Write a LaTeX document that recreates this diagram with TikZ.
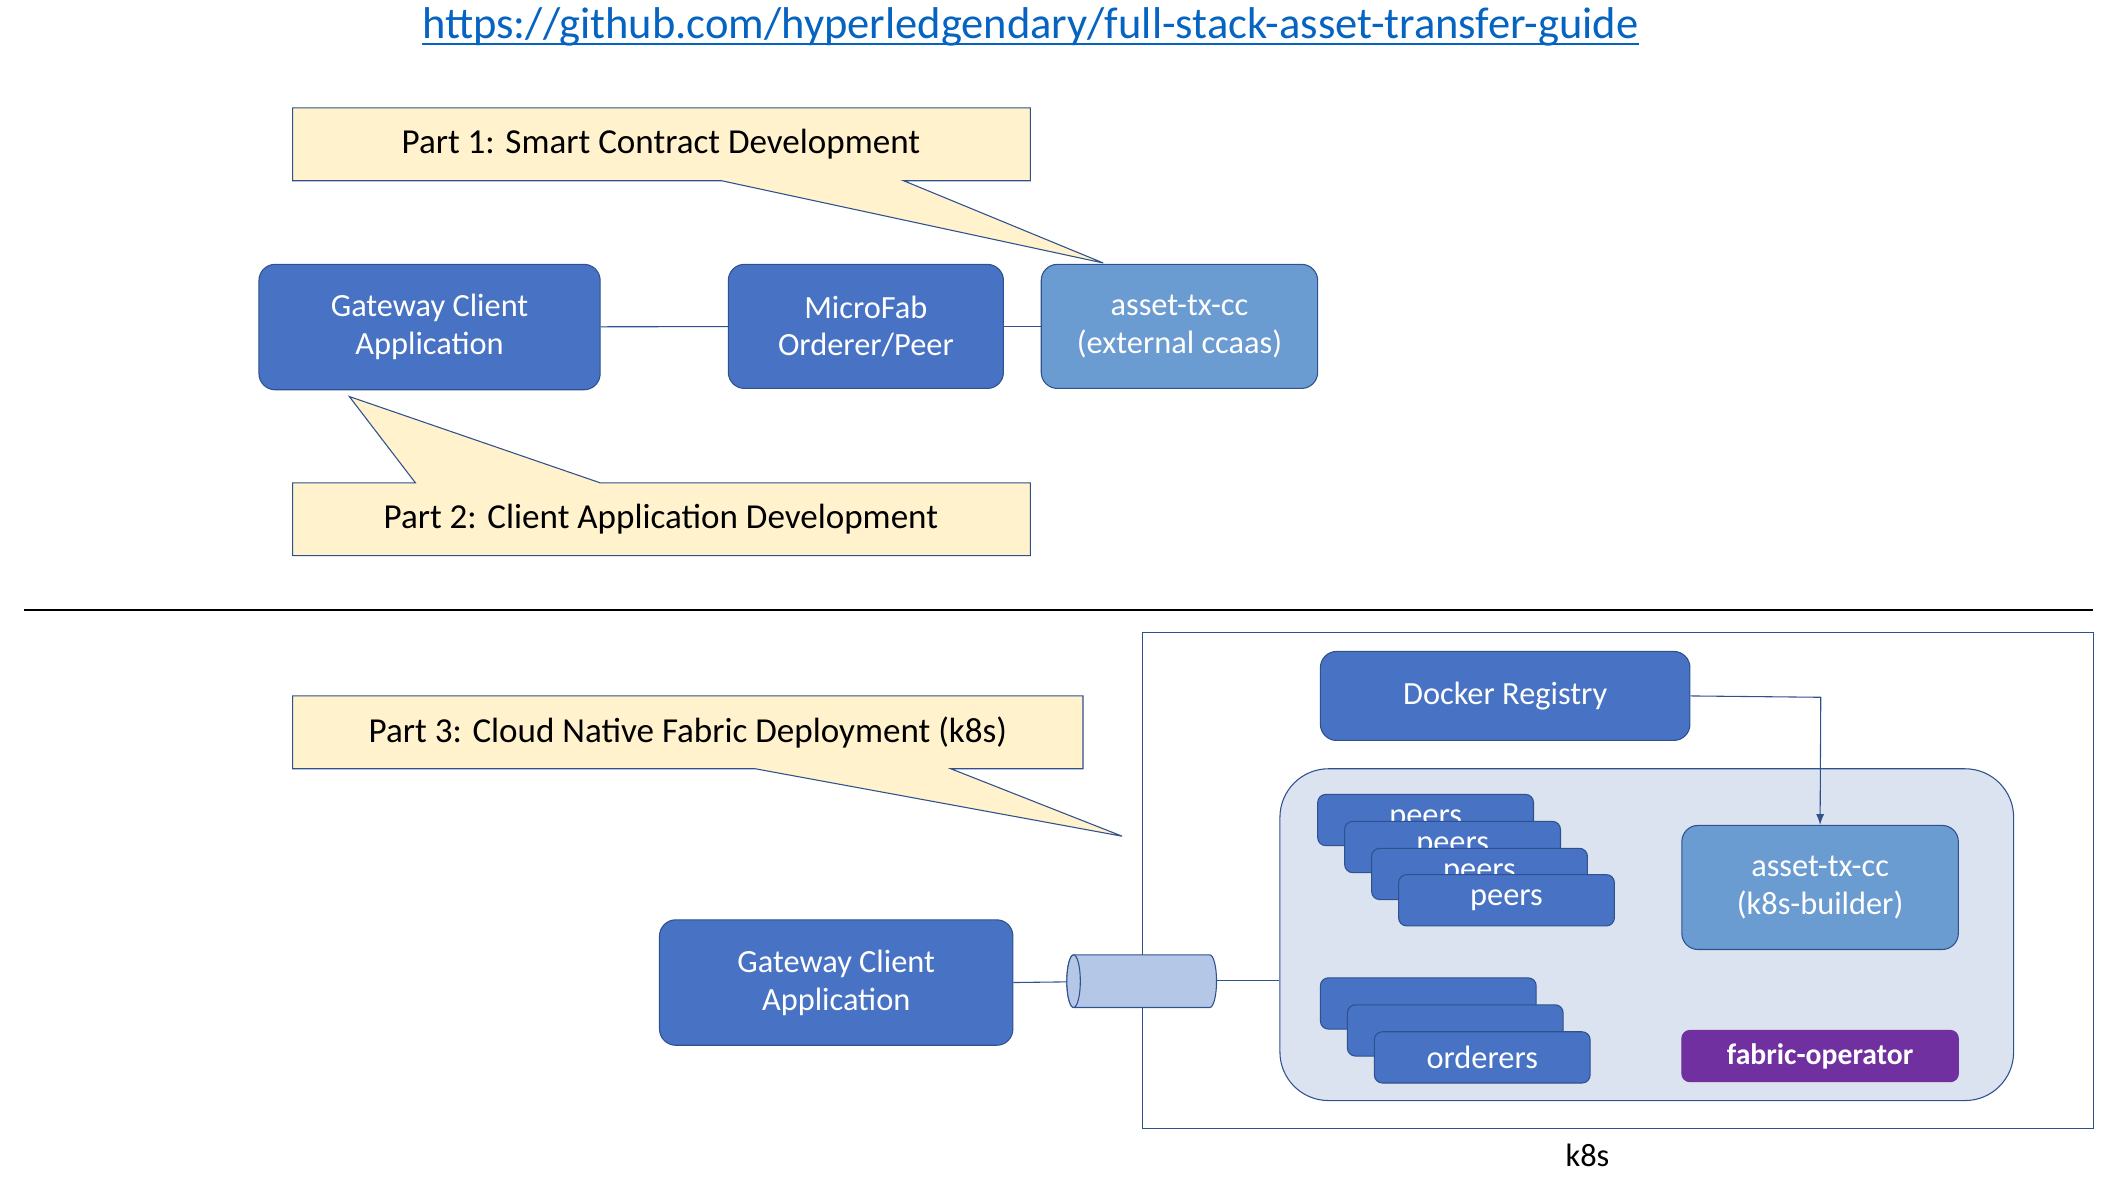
\documentclass[tikz,border=0pt]{standalone}
\usepackage{fontspec}
\setmainfont{Carlito}
\usetikzlibrary{arrows.meta}
\definecolor{boxblue}{RGB}{72,114,196}
\definecolor{lightblue}{RGB}{106,155,209}
\definecolor{edgeblue}{RGB}{47,82,143}
\definecolor{noteyellow}{RGB}{255,242,204}
\definecolor{areablue}{RGB}{220,227,240}
\definecolor{cylblue}{RGB}{180,199,231}
\definecolor{purp}{RGB}{112,48,160}
\definecolor{linkblue}{RGB}{5,99,193}
\tikzset{
  comp/.style={draw=edgeblue, fill=boxblue, rounded corners=6pt, text=white,
    font=\fontsize{12}{14}\selectfont, align=center, inner sep=0pt},
  stack/.style={draw=edgeblue, fill=boxblue, rounded corners=3pt, text=white,
    font=\fontsize{12}{14}\selectfont, minimum width=80pt, minimum height=19pt, inner sep=0pt}
}
\begin{document}
\begin{tikzpicture}[x=0.5pt,y=-0.5pt]
\useasboundingbox (0,0) rectangle (1560,872);
% link
\node[text=linkblue, inner sep=0pt, font=\fontsize{16.5}{18}\selectfont] (url) at (764,20)
  {https://github.com/hyperledgendary/full-stack-asset-transfer-guide};
\draw[linkblue, thin] ([yshift=-2pt]url.base west) -- ([yshift=-2pt]url.base east);
% part 1 and 2
\node[comp, minimum width=126.5pt, minimum height=46.5pt] (gw) at (318.5,242.5) {Gateway Client\\Application};
\node[comp, minimum width=102pt, minimum height=46pt] (mf) at (642,242) {MicroFab\\Orderer/Peer};
\node[comp, fill=lightblue, minimum width=102.5pt, minimum height=46pt] (cc) at (874.5,242) {asset-tx-cc\\(external ccaas)};
\draw[edgeblue, thin] (gw) -- (mf);
\draw[edgeblue, thin] (mf) -- (cc);
\coordinate (tip1) at (818,195);
\coordinate (tip2) at (259,294);
\draw[edgeblue, fill=noteyellow] (217,80) -- (764,80) -- (764,134) -- (670,134) -- (tip1) -- (535,134) -- (217,134) -- cycle;
\node[font=\fontsize{13}{15}\selectfont] (n1) at (490,107) {Part 1: Smart Contract Development};
\draw[edgeblue, fill=noteyellow] (217,358) -- (308,358) -- (tip2) -- (445,358) -- (764,358) -- (764,412) -- (217,412) -- cycle;
\node[font=\fontsize{13}{15}\selectfont] (n2) at (490,385) {Part 2: Client Application Development};
% divider
\draw[thick] (18,452) -- (1552,452);
% part 3
\node[draw=edgeblue, minimum width=352.5pt, minimum height=184pt, inner sep=0pt] (k8s) at (1199.5,653) {};
\node[font=\fontsize{12}{14}\selectfont] (k8slbl) at (1177,857) {k8s};
\node[comp, minimum width=137pt, minimum height=33pt] (reg) at (1116,516) {Docker Registry};
\node[draw=edgeblue, fill=areablue, rounded corners=18pt, minimum width=272pt, minimum height=123pt] (ns) at (1221,693) {};
\node[stack] (p1) at (1057,608) {peers};
\node[stack] (p2) at (1077,628) {peers};
\node[stack] (p3) at (1097,648) {peers};
\node[stack] (p4) at (1117,667.5) {peers};
\node[stack] (o1) at (1059,744) {};
\node[stack] (o2) at (1079,764) {};
\node[stack] (o3) at (1099,784) {orderers};
\node[comp, fill=lightblue, minimum width=102.5pt, minimum height=46pt] (cc2) at (1349.5,658) {asset-tx-cc\\(k8s-builder)};
\node[comp, fill=purp, draw=purp, rounded corners=3pt, minimum width=102.5pt, minimum height=19pt, font=\fontsize{11}{13}\selectfont\bfseries] (op) at (1349.5,783) {fabric-operator};
\draw[edgeblue, -{Latex[length=4pt]}] (reg.east) -- (1350,517) -- (cc2.north);
\coordinate (tip3) at (832,620);
\draw[edgeblue, fill=noteyellow] (217,516) -- (803,516) -- (803,570) -- (705,570) -- (tip3) -- (560,570) -- (217,570) -- cycle;
\node[font=\fontsize{13}{15}\selectfont] (n3) at (510,543) {Part 3: Cloud Native Fabric Deployment (k8s)};
\node[comp, minimum width=131pt, minimum height=46.5pt] (gw2) at (620,728.5) {Gateway Client\\Application};
% pipe
\coordinate (pipeW) at (791,728);
\coordinate (pipeE) at (902,727);
\draw[edgeblue, fill=cylblue] (796,708) -- (897,708) arc[start angle=90, end angle=-90, x radius=5, y radius=-19.5]
  -- (796,747) arc[start angle=-90, end angle=-270, x radius=5, y radius=-19.5] -- cycle;
\draw[edgeblue, fill=cylblue] (796,727.5) ellipse[x radius=5, y radius=19.5];
\draw[edgeblue, thin] (gw2.east) -- (pipeW);
\draw[edgeblue, thin] (pipeE) -- (ns.west |- pipeE);
\end{tikzpicture}
\end{document}
